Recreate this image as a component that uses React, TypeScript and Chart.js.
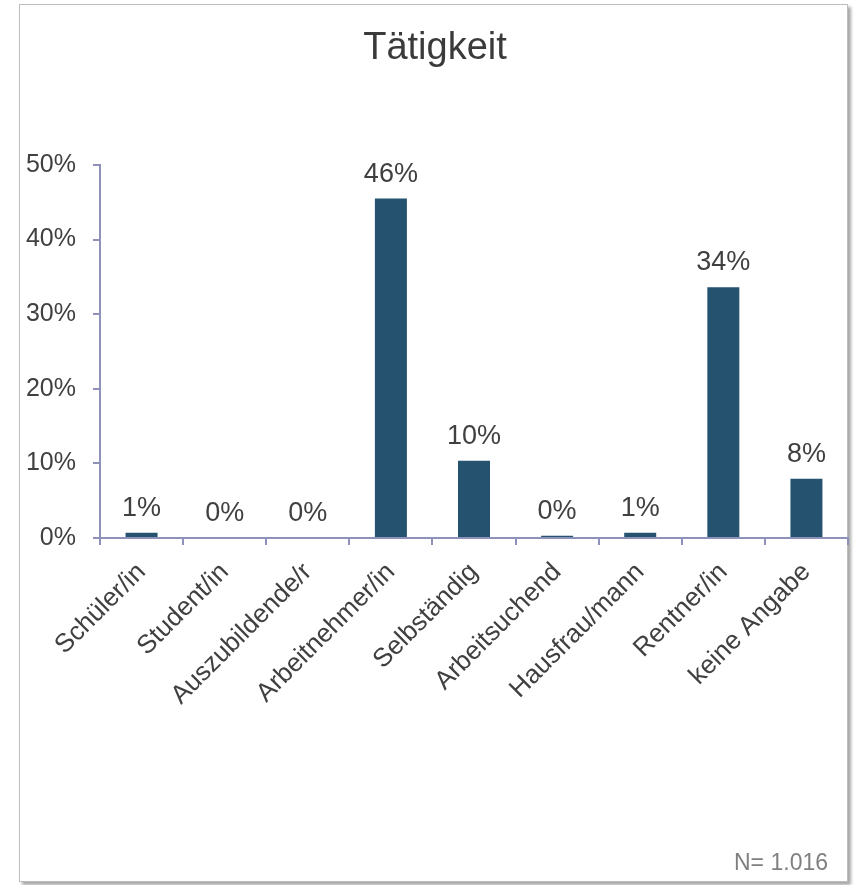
import React, { useEffect, useRef } from "react";
import { Chart, registerables } from "chart.js";

Chart.register(...registerables);

const title = "Tätigkeit";
const categories = [
  "Schüler/in",
  "Student/in",
  "Auszubildende/r",
  "Arbeitnehmer/in",
  "Selbständig",
  "Arbeitsuchend",
  "Hausfrau/mann",
  "Rentner/in",
  "keine Angabe",
];
const values = [0.7, 0, 0, 45.5, 10.35, 0.3, 0.7, 33.6, 7.95];
const yTicks = [0, 10, 20, 30, 40, 50];
const footnote = "N= 1.016";

const FONT = "'Liberation Sans', Arial, sans-serif";
const TEXT = "#404040";
const AXIS = "#8E92BA";
const BAR = "#24526F";

const overlayPlugin = {
  id: "overlay",
  afterDatasetsDraw(chart: any) {
    const ctx = chart.ctx;
    const meta = chart.getDatasetMeta(0);
    ctx.save();
    ctx.fillStyle = TEXT;
    ctx.font = `27px ${FONT}`;
    ctx.textAlign = "center";
    ctx.textBaseline = "alphabetic";
    meta.data.forEach((bar: any, i: number) => {
      ctx.fillText(Math.round(values[i]) + "%", bar.x, bar.y - 17);
    });
    ctx.font = `38px ${FONT}`;
    ctx.fillStyle = "#3a3a3a";
    ctx.fillText(title, 435, 59);
    ctx.font = `23px ${FONT}`;
    ctx.fillStyle = "#808080";
    ctx.textAlign = "right";
    ctx.fillText(footnote, 828, 870);
    ctx.restore();
  },
};

export default function App() {
  const ref = useRef<HTMLCanvasElement>(null);
  useEffect(() => {
    if (!ref.current) return;
    const chart = new Chart(ref.current, {
      type: "bar",
      data: {
        labels: categories,
        datasets: [
          {
            data: values,
            backgroundColor: BAR,
            borderWidth: 0,
            categoryPercentage: 1,
            barPercentage: 0.385,
          },
        ],
      },
      options: {
        animation: false,
        responsive: false,
        maintainAspectRatio: false,
        layout: { padding: { top: 165, right: 6, bottom: 0, left: 0 } },
        plugins: {
          legend: { display: false },
          tooltip: { enabled: false },
          title: { display: false },
        },
        scales: {
          x: {
            afterFit: (s: any) => {
              s.height = 347;
            },
            grid: {
              offset: true,
              drawOnChartArea: false,
              drawTicks: true,
              tickLength: 7,
              color: AXIS,
              lineWidth: 2,
            },
            border: { color: AXIS, width: 2 },
            ticks: {
              autoSkip: false,
              maxRotation: 45,
              minRotation: 45,
              padding: 12,
              color: TEXT,
              font: { family: FONT, size: 26 },
            },
          },
          y: {
            min: 0,
            max: 50,
            afterFit: (s: any) => {
              s.width = 100;
            },
            afterBuildTicks: (s: any) => {
              s.ticks = yTicks.map((v) => ({ value: v }));
            },
            grid: {
              drawOnChartArea: false,
              drawTicks: true,
              tickLength: 7,
              color: AXIS,
              lineWidth: 2,
            },
            border: { color: AXIS, width: 2 },
            ticks: {
              padding: 17,
              color: TEXT,
              font: { family: FONT, size: 25 },
              callback: (v: any) => v + "%",
            },
          },
        },
      },
      plugins: [overlayPlugin],
    });
    return () => chart.destroy();
  }, []);
  return (
    <div
      style={{
        position: "fixed",
        left: 0,
        top: 0,
        width: 854,
        height: 885,
        background: "#fff",
      }}
    >
      <div
        style={{
          position: "absolute",
          left: 19,
          top: 4,
          width: 827,
          height: 876,
          border: "1px solid #bdbdbd",
          boxShadow: "3px 3px 3px rgba(0,0,0,0.35)",
        }}
      />
      <canvas
        ref={ref}
        width={854}
        height={885}
        style={{ position: "absolute", left: 0, top: 0, width: 854, height: 885 }}
      />
    </div>
  );
}
